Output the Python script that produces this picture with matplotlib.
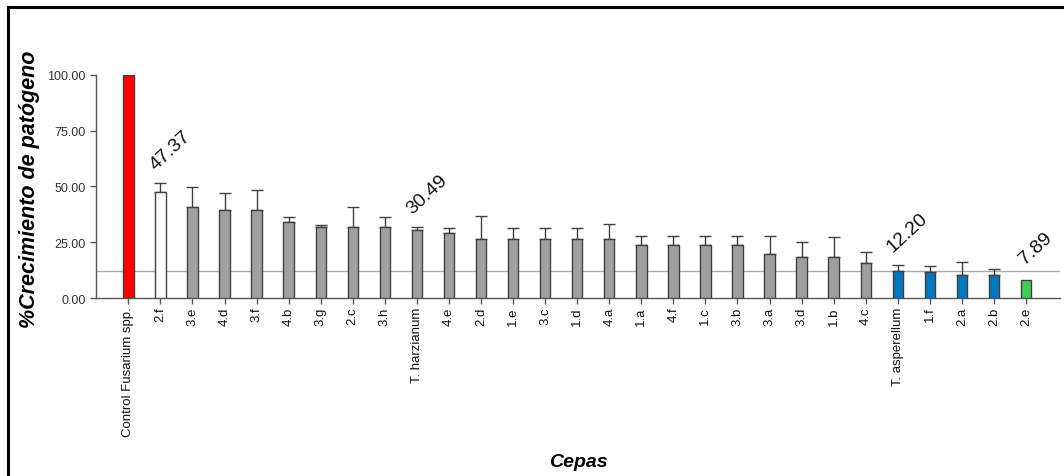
import matplotlib
matplotlib.use('Agg')
import matplotlib.pyplot as plt
from matplotlib.lines import Line2D
import numpy as np

plt.rcParams['font.family'] = ['Liberation Sans', 'DejaVu Sans']

# data
cepas = ['Control Fusarium spp.', '2.f', '3.e', '4.d', '3.f', '4.b', '3.g', '2.c', '3.h',
         'T. harzianum', '4.e', '2.d', '1.e', '3.c', '1.d', '4.a', '1.a', '4.f', '1.c',
         '3.b', '3.a', '3.d', '1.b', '4.c', 'T. asperellum', '1.f', '2.a', '2.b', '2.e']
crecimiento = [100.0, 47.37, 40.8, 39.5, 39.5, 34.2, 31.6, 31.6, 31.6,
               30.49, 28.9, 26.3, 26.3, 26.3, 26.3, 26.3, 23.7, 23.7, 23.7,
               23.7, 19.7, 18.4, 18.4, 15.8, 12.20, 11.8, 10.5, 10.5, 7.89]
error = [0.0, 4.3, 9.0, 7.6, 9.0, 2.2, 1.0, 9.0, 4.5,
         1.2, 2.4, 10.5, 5.0, 5.0, 5.0, 6.9, 4.1, 4.1, 4.1,
         4.1, 8.1, 6.6, 9.0, 4.8, 2.4, 2.4, 5.4, 2.7, 0.0]
grupo = ['control', 'peor'] + ['medio'] * 22 + ['bajo'] * 4 + ['mejor']
etiquetados = ['2.f', 'T. harzianum', 'T. asperellum', '2.e']
linea_ref = 12.20

colores = {'control': '#FF0000', 'peor': '#FFFFFF', 'medio': '#A0A0A0',
           'bajo': '#0077BE', 'mejor': '#44CC55'}

fig = plt.figure(figsize=(10.64, 4.77), dpi=100)
ax = fig.add_axes([96 / 1064, 1 - 299 / 477, (1060 - 96) / 1064, (299 - 75.7) / 477])

x = np.arange(len(cepas))
vals = np.array(crecimiento)
err = np.array(error)

ax.axhline(linea_ref, color='#AAAAAA', lw=1, zorder=1)
ax.bar(x, vals, width=0.325, color=[colores[g] for g in grupo],
       edgecolor='#404040', linewidth=1, zorder=3)
m = err > 0
ax.errorbar(x[m], vals[m], yerr=[np.zeros(m.sum()), err[m]], fmt='none',
            ecolor='#404040', elinewidth=1, capsize=4, capthick=1, zorder=2)

for nombre in etiquetados:
    i = cepas.index(nombre)
    ax.annotate(f'{vals[i]:.2f}', (i, vals[i] + err[i]), xytext=(10, 33),
                textcoords='offset pixels', rotation=43, ha='center', va='center',
                fontsize=14, color='#111111', annotation_clip=False)

ax.set_xlim(-1.01, 29.06)
ax.set_ylim(0, 100)
ax.set_yticks([0, 25, 50, 75, 100])
ax.set_yticklabels([f'{v:.2f}' for v in [0, 25, 50, 75, 100]])
ax.set_xticks(x)
ax.set_xticklabels(cepas, rotation=90, fontsize=9.5, color='#111111')
ax.tick_params(axis='y', labelsize=9, labelcolor='#333333', length=4, color='#555555', width=1)
ax.tick_params(axis='x', length=4, color='#555555', width=1, pad=2)

for s in ['top', 'right']:
    ax.spines[s].set_visible(False)
for s in ['left', 'bottom']:
    ax.spines[s].set_color('#555555')
    ax.spines[s].set_linewidth(1)

fig.text(30 / 1064, 1 - 189 / 477, '%Crecimiento de patógeno', rotation=90,
         ha='center', va='center', fontsize=15.5, fontweight='bold', fontstyle='italic')
fig.text(578 / 1064, 1 - 463 / 477, 'Cepas', ha='center', va='center',
         fontsize=14, fontweight='bold', fontstyle='italic')

# marco exterior (izquierda y arriba)
fig.add_artist(Line2D([7.5 / 1064, 7.5 / 1064], [0, 1 - 7.5 / 477], color='black', lw=2.2,
                      transform=fig.transFigure))
fig.add_artist(Line2D([7.5 / 1064, 1], [1 - 7.5 / 477, 1 - 7.5 / 477], color='black', lw=2.2,
                      transform=fig.transFigure))

fig.savefig('out.png', dpi=100)
